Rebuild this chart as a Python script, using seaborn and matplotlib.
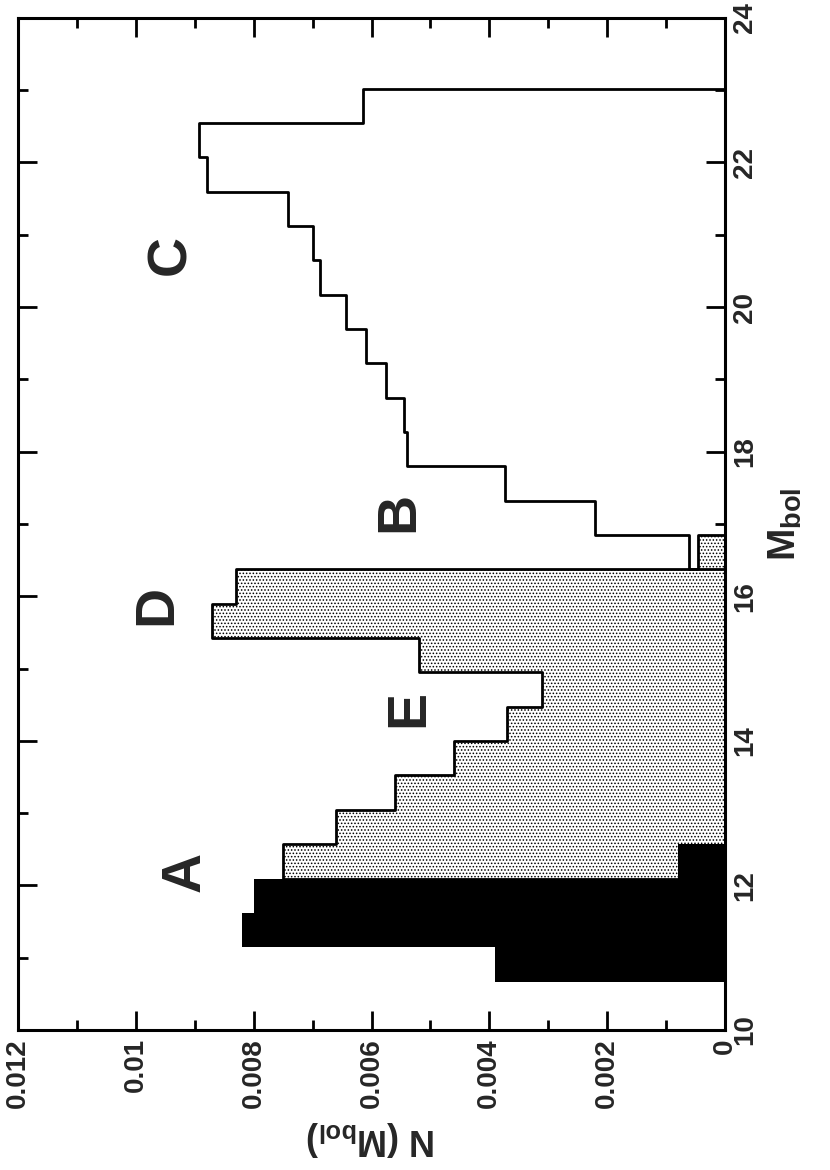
import numpy as np
import pandas as pd
import seaborn as sns
import matplotlib.pyplot as plt
from matplotlib.ticker import MultipleLocator

# luminosity function bins (M_bol) and values N(M_bol)
edges_a = [10.67, 11.145, 11.62, 12.095, 12.57]
n_a = [0.0039, 0.0082, 0.0080, 0.00079]

edges_de = [12.095, 12.57, 13.045, 13.52, 13.995, 14.47, 14.945, 15.42, 15.895, 16.37, 16.845]
n_de = [0.0075, 0.0066, 0.0056, 0.0046, 0.0037, 0.0031, 0.0052, 0.0087, 0.0083, 0.00046]

edges_bc = [16.37, 16.845, 17.32, 17.795, 18.27, 18.745, 19.22, 19.695, 20.17,
            20.645, 21.12, 21.595, 22.07, 22.545, 23.02]
n_bc = [0.00061, 0.00221, 0.00374, 0.00539, 0.00545, 0.00575, 0.00610,
        0.00643, 0.00687, 0.00699, 0.00741, 0.00879, 0.00892, 0.00615]

# region letters
letters = ['A', 'E', 'D', 'B', 'C']
letter_n = [0.00915, 0.00536, 0.00964, 0.00553, 0.0094]
letter_m = [12.19, 14.45, 15.88, 17.16, 20.72]

n_ticks = [0, 0.002, 0.004, 0.006, 0.008, 0.01, 0.012]
n_ticklabels = ['0', '0.002', '0.004', '0.006', '0.008', '0.01', '0.012']
m_ticks = [10, 12, 14, 16, 18, 20, 22, 24]


def hist_frame(edges, values):
    e = np.array(edges)
    return pd.DataFrame({'Mbol': (e[:-1] + e[1:]) / 2, 'N': values})


sns.set_style('white')
plt.rcParams['font.family'] = ['Liberation Sans', 'DejaVu Sans']
plt.rcParams['font.weight'] = 'bold'
plt.rcParams['mathtext.fontset'] = 'custom'
plt.rcParams['mathtext.rm'] = 'Liberation Sans:bold'
plt.rcParams['mathtext.bf'] = 'Liberation Sans:bold'
plt.rcParams['hatch.linewidth'] = 0.7
plt.rcParams['hatch.color'] = 'black'

fig = plt.figure(figsize=(8.3, 11.7), dpi=100)
ax = fig.add_axes([0.0217, 0.1197, 0.8518, 0.865])

# stippled histogram (E, D)
sns.histplot(data=hist_frame(edges_de, n_de), y='Mbol', weights='N', bins=edges_de,
             element='step', fill=True, color='black', facecolor='white', edgecolor='black',
             hatch='.....', linewidth=2, ax=ax)

# open histogram (B, C)
sns.histplot(data=hist_frame(edges_bc, n_bc), y='Mbol', weights='N', bins=edges_bc,
             element='step', fill=True, color='black', facecolor='none', edgecolor='black',
             linewidth=2, ax=ax)

# solid histogram (A)
sns.histplot(data=hist_frame(edges_a, n_a), y='Mbol', weights='N', bins=edges_a,
             element='bars', fill=True, color='black', alpha=1, linewidth=0, ax=ax)

for s, n, m in zip(letters, letter_n, letter_m):
    ax.text(n, m, s, rotation=90, ha='center', va='center', fontsize=40, fontweight='bold')

ax.set_xlim(0.012, 0)
ax.set_ylim(10, 24)
ax.set_xticks(n_ticks)
ax.set_xticklabels(n_ticklabels, rotation=90, fontsize=20, fontweight='bold')
ax.xaxis.set_minor_locator(MultipleLocator(0.001))
ax.set_yticks(m_ticks)
ax.yaxis.set_minor_locator(MultipleLocator(1))
ax.yaxis.tick_right()
ax.tick_params(axis='y', labelrotation=90, labelsize=20)
ax.tick_params(axis='both', which='both', direction='in', top=True, bottom=True,
               left=True, right=True, width=2, color='black')
ax.tick_params(which='major', length=14)
ax.tick_params(which='minor', length=7)
ax.tick_params(axis='x', pad=6)
ax.tick_params(axis='y', pad=5)
for lab in ax.get_yticklabels():
    lab.set_fontweight('bold')
    lab.set_va('center')

ax.set_xlabel('N (M$_{\\mathbf{bol}}$)', rotation=180, fontsize=26, fontweight='bold', labelpad=8)
ax.yaxis.set_label_position('right')
ax.set_ylabel('M$_{\\mathbf{bol}}$', rotation=90, fontsize=28, fontweight='bold', labelpad=6)

for sp in ax.spines.values():
    sp.set_linewidth(2.2)
    sp.set_color('black')

fig.savefig('out.png', dpi=100)
